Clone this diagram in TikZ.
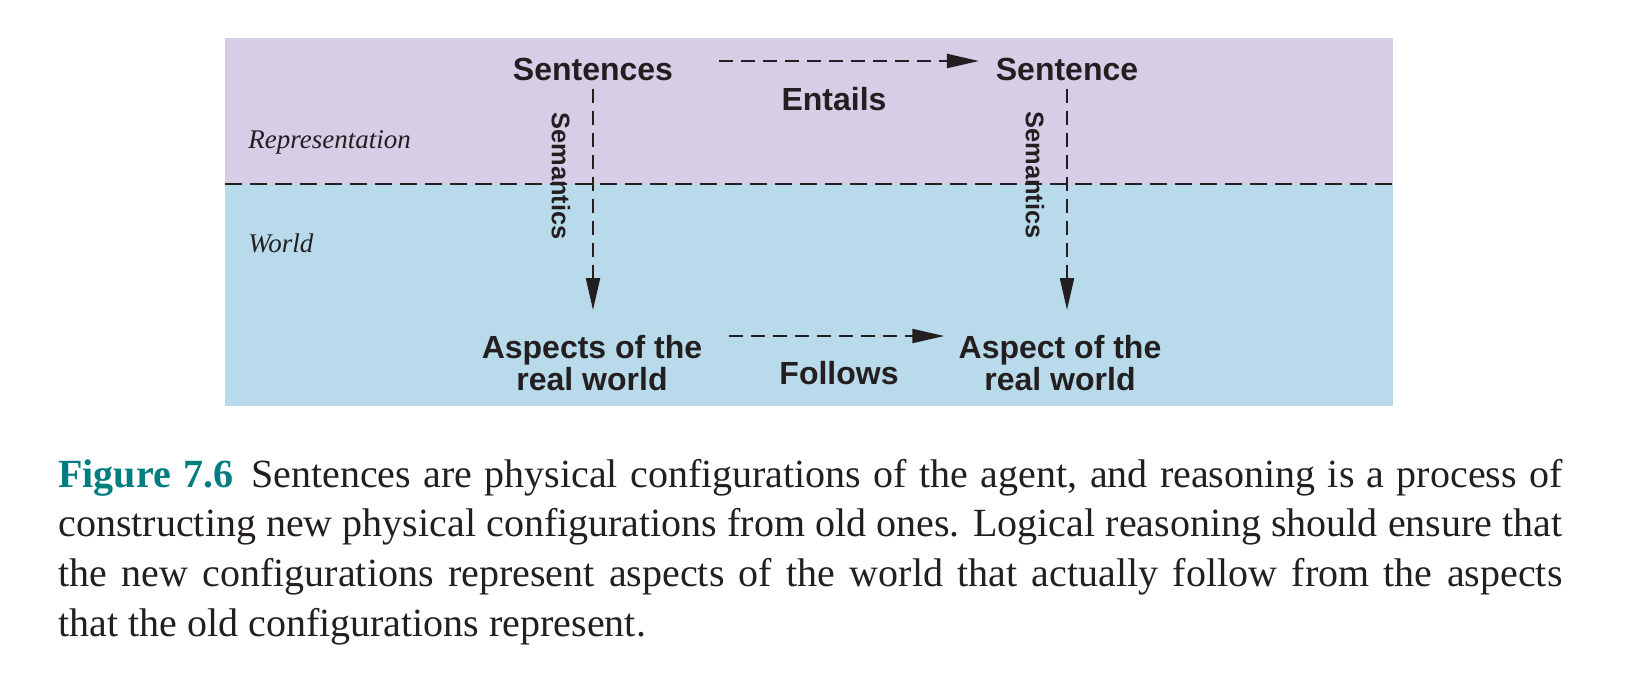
\documentclass[tikz,border=0pt]{standalone}
\usepackage{fontspec}
\setmainfont{Liberation Serif}
\setsansfont{Liberation Sans}
\usetikzlibrary{arrows.meta}
\definecolor{ink}{RGB}{35,31,32}
\definecolor{repbg}{RGB}{214,205,230}
\definecolor{wldbg}{RGB}{185,218,234}
\definecolor{teal7}{RGB}{0,125,128}
\begin{document}
\begin{tikzpicture}[x=0.5pt,y=-0.5pt,
  lbl/.style={inner sep=0pt, text=ink, font=\sffamily\bfseries\fontsize{16}{16}\selectfont},
  semlbl/.style={inner sep=0pt, text=ink, rotate=-90, font=\sffamily\bfseries\fontsize{12.7}{13}\selectfont},
  zone/.style={inner sep=0pt, text=ink, anchor=base west, font=\itshape\fontsize{13.5}{14}\selectfont},
  conn/.style={draw=ink, line width=1pt, dash pattern=on 7pt off 4pt, -{Triangle[length=16pt,width=7pt]}},
  divider/.style={draw=ink, line width=1.1pt, dash pattern=on 8.3pt off 4.2pt}]
\useasboundingbox (0,0) rectangle (1638,677);
% bands
\fill[repbg] (225,38) rectangle (1393,184);
\fill[wldbg] (225,184) rectangle (1393,406);
\draw[divider] (225,184) -- (1393,184);
% zone labels
\node[zone] (rep) at (248,148) {Representation};
\node[zone] (wld) at (248,252) {World};
% main nodes
\node[lbl, anchor=base] (sentA) at (593,80) {Sentences};
\node[lbl, anchor=base] (sentB) at (1067,80) {Sentence};
\node[lbl, anchor=north, align=center] (aspA) at (592,335) {Aspects of the\\real world};
\node[lbl, anchor=north, align=center] (aspB) at (1060,335) {Aspect of the\\real world};
% relation labels
\node[lbl, anchor=base] (entails) at (834,110) {Entails};
\node[lbl, anchor=base] (follows) at (839,384) {Follows};
\node[semlbl] (semA) at (561,176) {Semantics};
\node[semlbl] (semB) at (1035,175) {Semantics};
% connectors
\draw[conn] ([shift={(23pt,9.5pt)}]sentA.base east) -- ([shift={(-8.25pt,9.5pt)}]sentB.base west);
\draw[conn] ([shift={(13pt,-0.5pt)}]aspA.north east) -- ([shift={(-7pt,-0.5pt)}]aspB.north west);
\draw[conn, shorten <=4pt, shorten >=12.5pt] (sentA.south) -- (sentA.south |- aspA.north);
\draw[conn, shorten <=4pt, shorten >=12.5pt] (sentB.south) -- (sentB.south |- aspB.north);
% caption
\node[anchor=base west, inner sep=0pt, text=ink] (cap) at (58,487) {\parbox[t]{752pt}{\fontsize{20}{24.9}\selectfont
\makebox[\linewidth][s]{\textcolor{teal7}{\textbf{Figure 7.6}}\hspace{0.45em}Sentences are physical configurations of the agent, and reasoning is a process of}\\
\makebox[\linewidth][s]{constructing new physical configurations from old ones. Logical reasoning should ensure that}\\
\makebox[\linewidth][s]{the new configurations represent aspects of the world that actually follow from the aspects}\\
that the old configurations represent.}};
\end{tikzpicture}
\end{document}
